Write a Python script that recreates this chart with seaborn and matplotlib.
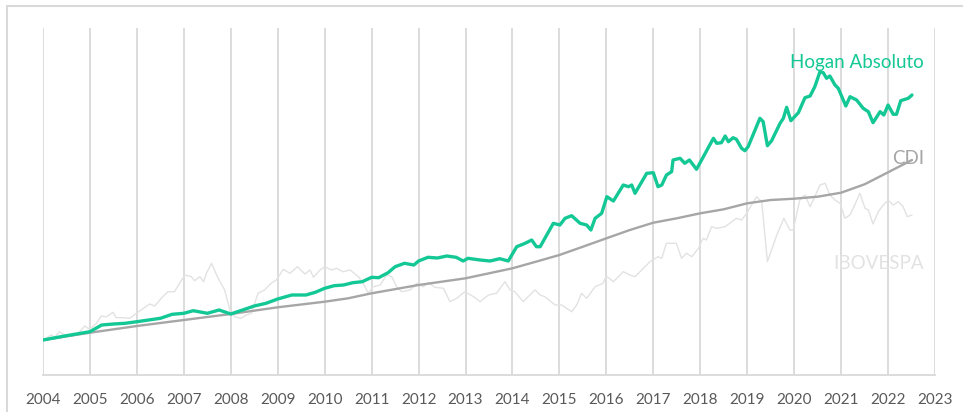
import matplotlib
matplotlib.use("Agg")
import matplotlib.pyplot as plt
import numpy as np
import pandas as pd
import seaborn as sns
from matplotlib.patches import Rectangle

# values are in index units (start of 2004 = 35)
hogan_t = [2004.0, 2004.5, 2005.0, 2005.25, 2005.5, 2005.75, 2006.0, 2006.5, 2006.75, 2007.0,
           2007.2, 2007.5, 2007.75, 2008.0, 2008.25, 2008.5, 2008.75, 2009.0, 2009.3, 2009.6,
           2009.8, 2010.0, 2010.2, 2010.4, 2010.6, 2010.8, 2011.0, 2011.15, 2011.35, 2011.5,
           2011.7, 2011.9, 2012.0, 2012.2, 2012.4, 2012.6, 2012.8, 2012.95, 2013.05, 2013.31,
           2013.52, 2013.73, 2013.91, 2014.09, 2014.27, 2014.41, 2014.51, 2014.59, 2014.87, 2015.01,
           2015.12, 2015.26, 2015.44, 2015.58, 2015.67, 2015.76, 2015.90, 2016.01, 2016.15, 2016.36,
           2016.47, 2016.54, 2016.61, 2016.86, 2017.0, 2017.10, 2017.18, 2017.28, 2017.39, 2017.42,
           2017.57, 2017.67, 2017.77, 2017.92, 2018.28, 2018.35, 2018.45, 2018.53, 2018.60, 2018.70,
           2018.77, 2018.88, 2018.95, 2019.02, 2019.27, 2019.34, 2019.43, 2019.52, 2019.70, 2019.77,
           2019.84, 2019.93, 2020.09, 2020.23, 2020.34, 2020.44, 2020.55, 2020.62, 2020.69, 2020.76,
           2020.87, 2020.94, 2021.10, 2021.19, 2021.33, 2021.47, 2021.58, 2021.68, 2021.83, 2021.91,
           2022.00, 2022.11, 2022.18, 2022.27, 2022.43, 2022.51]
hogan_v = [35, 39.3, 43.3, 50, 51, 51.7, 53.3, 56.7, 60.7, 61.7,
           64.3, 61.7, 65, 61, 65, 69, 71.7, 76, 80, 80,
           82.7, 86.7, 89.3, 90, 92.3, 93.3, 97.7, 97.3, 102.3, 108.3,
           111.7, 110, 114, 117.7, 117, 119, 117.7, 114, 116.7, 115,
           114, 116.3, 114, 128.3, 131.7, 135, 128.3, 128.3, 151.7, 150,
           156.7, 159.3, 151.7, 150, 145, 156.7, 161.7, 178.3, 174, 190,
           188.3, 190, 181.7, 201.7, 202.3, 188.3, 190, 200, 203.3, 215,
           216.7, 211.7, 215, 205.7, 236.7, 231.7, 232.3, 239, 233.3, 237.3,
           235.7, 226.7, 224.3, 228.3, 256.7, 253.3, 229.3, 234.3, 251.7, 256.7,
           267.7, 254.3, 262.3, 277.3, 279, 288.3, 303.3, 302.3, 296.7, 299,
           290, 286.7, 269, 278.3, 275, 266.7, 263.3, 252.3, 263.3, 260,
           270, 260.7, 260.7, 274.3, 276.7, 280]

cdi_t = [2004, 2005, 2006, 2007, 2008, 2009, 2010, 2010.5, 2011, 2012, 2013, 2014, 2014.5,
         2015, 2015.5, 2016, 2016.5, 2017, 2017.5, 2018, 2018.5, 2019, 2019.5, 2020, 2020.5,
         2021, 2021.5, 2022, 2022.51]
cdi_v = [35, 42.3, 49, 55, 61, 67.7, 73.3, 76.7, 81.7, 90, 96.7, 106.7, 113.3,
         120, 128.3, 136.7, 145, 152.3, 156.7, 161.7, 165.7, 171.7, 175, 176.3, 178.3,
         182.3, 190.7, 202.7, 215]

ibov_t = [2004.0, 2004.18, 2004.25, 2004.35, 2004.46, 2004.6, 2004.75, 2004.89, 2004.99, 2005.14,
          2005.24, 2005.35, 2005.49, 2005.56, 2005.70, 2005.85, 2005.99, 2006.17, 2006.27, 2006.38,
          2006.52, 2006.66, 2006.80, 2006.91, 2007.02, 2007.16, 2007.23, 2007.34, 2007.42, 2007.48,
          2007.59, 2007.73, 2007.87, 2007.99, 2008.08, 2008.22, 2008.33, 2008.44, 2008.58, 2008.72,
          2008.86, 2008.97, 2009.12, 2009.26, 2009.42, 2009.58, 2009.69, 2009.76, 2009.9, 2010.0,
          2010.15, 2010.25, 2010.39, 2010.54, 2010.72, 2010.82, 2010.93, 2011.03, 2011.18, 2011.32,
          2011.43, 2011.53, 2011.64, 2011.82, 2011.96, 2012.1, 2012.21, 2012.35, 2012.53, 2012.67,
          2012.81, 2012.99, 2013.17, 2013.31, 2013.49, 2013.66, 2013.84, 2013.95, 2014.05, 2014.23,
          2014.37, 2014.48, 2014.59, 2014.69, 2014.91, 2015.05, 2015.26, 2015.37, 2015.47, 2015.58,
          2015.76, 2015.93, 2016.0, 2016.15, 2016.36, 2016.5, 2016.61, 2016.79, 2016.93, 2017.1,
          2017.18, 2017.28, 2017.49, 2017.6, 2017.71, 2017.82, 2017.96, 2018.06, 2018.13, 2018.24,
          2018.35, 2018.53, 2018.67, 2018.77, 2018.88, 2018.99, 2019.09, 2019.2, 2019.31, 2019.43,
          2019.63, 2019.78, 2019.91, 2019.98, 2020.12, 2020.23, 2020.34, 2020.44, 2020.55, 2020.66,
          2020.76, 2020.87, 2020.98, 2021.08, 2021.19, 2021.29, 2021.4, 2021.51, 2021.58, 2021.68,
          2021.79, 2021.9, 2022.0, 2022.11, 2022.22, 2022.32, 2022.41, 2022.51]
ibov_v = [35, 40, 37.7, 43.3, 40, 39, 41.7, 49, 45.7, 51.7,
          59, 58.3, 62.7, 57.3, 57.3, 56.7, 61.7, 67.7, 71, 69,
          76.7, 83.3, 83.3, 91.7, 100, 98.3, 94.3, 98.3, 93.3, 101.7,
          111.7, 96.7, 85, 63.3, 58.3, 56.7, 60, 61.7, 81.7, 85,
          91.7, 95, 105.7, 101.7, 108.3, 101, 105, 97.7, 105, 108.3,
          105, 106.7, 103.3, 105, 98.3, 91.7, 81.7, 88.3, 90, 100,
          98.3, 88.3, 83.3, 85, 91.7, 88.3, 92.3, 87.7, 86.7, 73.3,
          76.7, 83.3, 78.3, 73.3, 80, 81.7, 93.3, 85, 83.3, 73.3,
          80, 85, 80, 78.3, 70, 70, 63.3, 70, 81.7, 76.7,
          88.3, 91.7, 99, 93.3, 103.3, 100, 98.3, 106.7, 113.3, 118.3,
          116.7, 131.7, 131.7, 116.7, 121.7, 118.3, 126.7, 136.7, 135, 148.3,
          146.7, 148.3, 153.3, 156.7, 155, 161.7, 170, 178.3, 173.3, 113.3,
          140, 156.7, 145, 145, 175, 180, 168.3, 178.3, 190, 191.7,
          180, 175, 171.7, 156.7, 160, 170, 181.7, 166.7, 165, 151,
          163.3, 170, 175, 170, 173.3, 168.3, 158.3, 160]

years = list(range(2004, 2024))

green = "#14c896"
cdi_col = "#a6a6a6"
ibov_col = "#e2e2e2"
grid_col = "#d9d9d9"

sns.set_style("white")
plt.rcParams["font.family"] = ["Lato", "DejaVu Sans"]

fig = plt.figure(figsize=(9.63, 4.12), dpi=100)
ax = fig.add_axes([43 / 963, 1 - 375 / 412, (935 - 43) / 963, (375 - 28) / 412])

# outer frame of the chart area
fig.patches.append(Rectangle((7 / 963, -0.1), 1.2, 1 - 6 / 412 + 0.1, transform=fig.transFigure,
                             fill=False, edgecolor=grid_col, lw=1.5, zorder=0))

for y in years:
    ax.axvline(y, color=grid_col, lw=1.3, zorder=0)

sns.lineplot(x=ibov_t, y=ibov_v, ax=ax, color=ibov_col, lw=1.0, zorder=2)
sns.lineplot(x=cdi_t, y=cdi_v, ax=ax, color=cdi_col, lw=1.7, zorder=3)
sns.lineplot(x=hogan_t, y=hogan_v, ax=ax, color=green, lw=2.4, zorder=4)

ax.set_xlim(2004, 2023)
ax.set_ylim(0, 347)
ax.set_yticks([])
ax.set_xticks(years)
ax.set_xticklabels([str(y) for y in years], fontsize=11, color="#595959")
ax.tick_params(axis="x", length=0, pad=13)
for s in ["top", "right", "left"]:
    ax.spines[s].set_visible(False)
ax.spines["bottom"].set_color(grid_col)
ax.spines["bottom"].set_linewidth(1.3)

ax.text(2022.77, 313, "Hogan Absoluto", color=green, fontsize=13.5, ha="right", va="center")
ax.text(2022.77, 217, "CDI", color=cdi_col, fontsize=13.5, ha="right", va="center")
ax.text(2022.77, 112, "IBOVESPA", color=ibov_col, fontsize=13.5, ha="right", va="center")

fig.savefig("out.png", dpi=100)
